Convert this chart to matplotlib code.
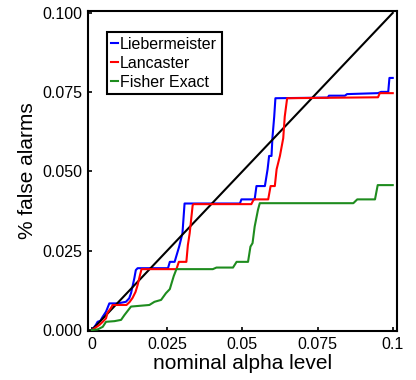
import matplotlib
matplotlib.use("Agg")
import matplotlib.pyplot as plt

plt.rcParams['font.family'] = ['Liberation Sans', 'DejaVu Sans']

# nominal alpha (x) vs observed false alarm rate (y)
lieb_x = [0, 0.0013, 0.0019, 0.0028, 0.0036, 0.0047, 0.0058, 0.0086, 0.0113, 0.0124,
          0.0130, 0.0135, 0.0141, 0.0146, 0.0152, 0.0253, 0.0259, 0.0275, 0.0290, 0.0301,
          0.0308, 0.0492, 0.0497, 0.0541, 0.0547, 0.0575, 0.0584, 0.0589, 0.0597, 0.0600,
          0.0606, 0.0610, 0.0784, 0.0788, 0.0841, 0.0848, 0.0951, 0.0961, 0.0985, 0.0989, 0.1000]
lieb_y = [0, 0.0016, 0.0026, 0.0029, 0.0042, 0.0058, 0.0084, 0.0084, 0.0089, 0.0100,
          0.0116, 0.0137, 0.0163, 0.0189, 0.0195, 0.0195, 0.0215, 0.0215, 0.0263, 0.0305,
          0.0399, 0.0399, 0.0412, 0.0412, 0.0454, 0.0454, 0.0507, 0.0549, 0.0549, 0.0605,
          0.0673, 0.0731, 0.0733, 0.0739, 0.0739, 0.0744, 0.0747, 0.0751, 0.0751, 0.0795, 0.0795]

lanc_x = [0, 0.0008, 0.0025, 0.0036, 0.0047, 0.0052, 0.0063, 0.0069, 0.0115, 0.0125,
          0.0135, 0.0145, 0.0152, 0.0159, 0.0165, 0.0281, 0.0289, 0.0314, 0.0319, 0.0325,
          0.0335, 0.0338, 0.0530, 0.0538, 0.0586, 0.0594, 0.0608, 0.0614, 0.0625, 0.0636,
          0.0641, 0.0649, 0.0951, 0.0957, 0.1000]
lanc_y = [0, 0.0005, 0.0016, 0.0026, 0.0037, 0.0055, 0.0069, 0.0079, 0.0079, 0.0088,
          0.0101, 0.0120, 0.0142, 0.0170, 0.0192, 0.0192, 0.0215, 0.0215, 0.0268, 0.0305,
          0.0394, 0.0397, 0.0397, 0.0412, 0.0412, 0.0454, 0.0454, 0.0507, 0.0549, 0.0605,
          0.0673, 0.0731, 0.0734, 0.0747, 0.0747]

fish_x = [0, 0.0019, 0.0036, 0.0047, 0.0075, 0.0097, 0.0108, 0.0130, 0.0191, 0.0208,
          0.0230, 0.0246, 0.0259, 0.0265, 0.0272, 0.0281, 0.0402, 0.0414, 0.0469, 0.0481,
          0.0519, 0.0527, 0.0534, 0.0541, 0.0552, 0.0558, 0.0869, 0.0882, 0.0941, 0.0950, 0.1000]
fish_y = [0, 0.0002, 0.0010, 0.0026, 0.0028, 0.0032, 0.0047, 0.0074, 0.0079, 0.0089,
          0.0095, 0.0116, 0.0129, 0.0148, 0.0170, 0.0192, 0.0192, 0.0197, 0.0197, 0.0215,
          0.0215, 0.0263, 0.0274, 0.0326, 0.0379, 0.0400, 0.0400, 0.0412, 0.0412, 0.0457, 0.0457]

diag = [0, 0.1]

xticks = [0, 0.025, 0.05, 0.075, 0.1]
xtick_labels = ['0', '0.025', '0.05', '0.075', '0.1']
yticks = [0, 0.025, 0.05, 0.075, 0.1]
ytick_labels = ['0.000', '0.025', '0.050', '0.075', '0.100']

fig = plt.figure(figsize=(4.16, 3.8), dpi=100)
ax = fig.add_axes([0.2115, 0.129, 0.742, 0.842])

lw = 1.5
ax.plot(lieb_x, lieb_y, color='#0000ff', lw=lw, label='Liebermeister', zorder=2)
ax.plot(diag, diag, color='black', lw=lw, zorder=3)
ax.plot(lanc_x, lanc_y, color='#ff0000', lw=lw, label='Lancaster', zorder=4)
ax.plot(fish_x, fish_y, color='#1e8c1e', lw=lw, label='Fisher Exact', zorder=5)

ax.set_xlim(-0.0013, 0.1013)
ax.set_ylim(-0.0003, 0.1006)
ax.set_xticks(xticks)
ax.set_xticklabels(xtick_labels)
ax.set_yticks(yticks)
ax.set_yticklabels(ytick_labels)
ax.tick_params(direction='in', length=3, width=1.2, labelsize=11.5, pad=4)

for s in ax.spines.values():
    s.set_linewidth(1.5)

ax.set_xlabel('nominal alpha level', fontsize=15, labelpad=2)
ax.set_ylabel('% false alarms', fontsize=15, labelpad=4)

leg = ax.legend(loc='upper left', bbox_to_anchor=(0.06, 0.935), fontsize=11.5,
                handlelength=0.4, handletextpad=0.15, labelspacing=0.25,
                borderpad=0.3, borderaxespad=0, fancybox=False, framealpha=1)
leg.get_frame().set_edgecolor('black')
leg.get_frame().set_linewidth(1.5)

fig.savefig('out.png', dpi=100)
